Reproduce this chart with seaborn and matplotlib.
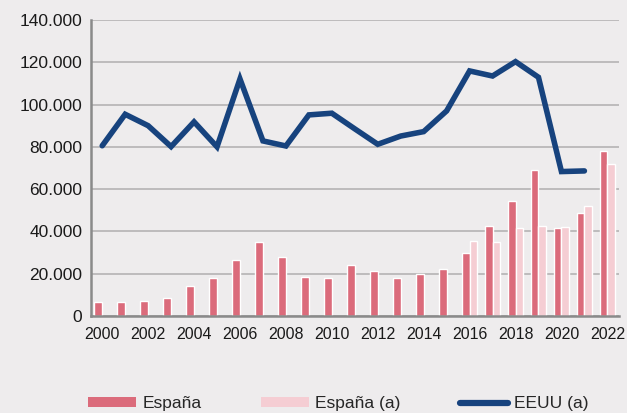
import matplotlib
matplotlib.use("Agg")
import matplotlib.pyplot as plt
from matplotlib.patches import Patch
from matplotlib.lines import Line2D
import seaborn as sns
import pandas as pd
import numpy as np

# ---- datos ----
years = list(range(2000, 2023))
espana = [6600, 6800, 7300, 8500, 14200, 18000, 26500, 35000, 27800, 18600,
          17800, 24100, 21400, 17800, 20000, 22200, 29600, 42400, 54200, 69000,
          41600, 48700, 78000]
espana_a = [np.nan] * 16 + [35600, 35000, 41500, 42400, 42100, 52000, 71900]
eeuu_a = [80500, 95400, 90000, 80100, 91800, 80000, 112100, 82800, 80400, 95100,
          95900, 88500, 81200, 85100, 87200, 97000, 115900, 113500, 120300, 112900,
          68300, 68600]

bg = "#EEECED"
c_es = "#DB6B7B"
c_es_a = "#F5CDD3"
c_us = "#17437E"

sns.set_style("white")
plt.rcParams["font.family"] = ["Liberation Sans", "DejaVu Sans"]

# tabla larga para las barras
df = pd.DataFrame({
    "year": [str(y) for y in years] * 2,
    "valor": espana + espana_a,
    "serie": ["España"] * len(years) + ["España (a)"] * len(years),
})

fig = plt.figure(figsize=(6.27, 4.13), dpi=100, facecolor=bg)
ax = fig.add_axes([0.1447, 0.235, 0.8423, 0.7166])
ax.set_facecolor(bg)

sns.barplot(data=df, x="year", y="valor", hue="serie",
            hue_order=["España", "España (a)"],
            palette=[c_es, c_es_a], order=[str(y) for y in years],
            width=0.68, saturation=1, ax=ax, legend=False, zorder=2)

pos = np.arange(len(eeuu_a))
sns.lineplot(x=pos, y=eeuu_a, color=c_us, linewidth=4, ax=ax, zorder=3,
             solid_joinstyle="miter")

ax.set_xlim(-0.5, len(years) - 0.5)
ax.set_ylim(0, 140000)
ax.set_yticks(np.arange(0, 140001, 20000))
ax.set_yticklabels([f"{v:,.0f}".replace(",", ".") for v in np.arange(0, 140001, 20000)],
                   fontsize=12.5)
ax.set_xticks(np.arange(0, len(years), 2))
ax.set_xticklabels([str(y) for y in years[::2]], fontsize=11.5)
ax.set_xticks([5.5, 11.5, 17.5], minor=True)
ax.tick_params(axis="x", which="major", length=0, pad=8, colors="#1a1a1a")
ax.tick_params(axis="x", which="minor", length=4, direction="in", color="#8a8a8a", width=1.2)
ax.tick_params(axis="y", length=5, direction="in", color="#8a8a8a", width=1.2, pad=6,
               colors="#1a1a1a")
ax.set_xlabel("")
ax.set_ylabel("")

ax.grid(axis="y", color="#b5b3b4", linewidth=1.2, zorder=0)
ax.set_axisbelow(True)
for s in ["top", "right"]:
    ax.spines[s].set_visible(False)
for s in ["left", "bottom"]:
    ax.spines[s].set_color("#8a8a8a")
    ax.spines[s].set_linewidth(1.8)

handles = [Patch(facecolor=c_es, edgecolor="none"),
           Patch(facecolor=c_es_a, edgecolor="none"),
           Line2D([], [], color=c_us, linewidth=4.5)]
fig.legend(handles, ["España", "España (a)", "EEUU (a)"], loc="lower left",
           bbox_to_anchor=(0.14, 0.004), ncol=3, frameon=False, fontsize=12.5,
           handlelength=2.8, handleheight=0.55, handletextpad=0.35,
           columnspacing=3.4, borderpad=0, borderaxespad=0)

fig.savefig("out.png", dpi=100, facecolor=bg)
